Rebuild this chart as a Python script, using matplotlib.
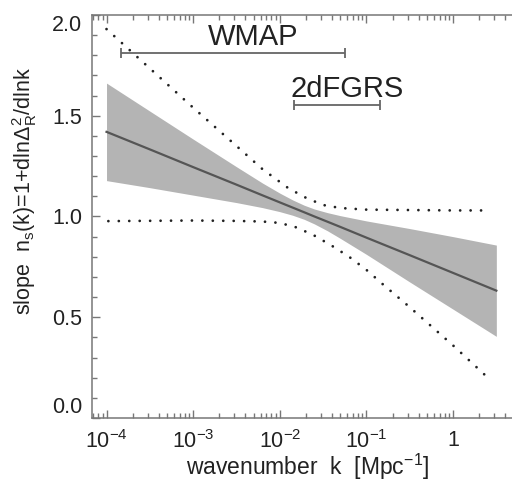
import numpy as np
import matplotlib.pyplot as plt
from matplotlib.ticker import FixedLocator, FixedFormatter, LogLocator, MultipleLocator, NullFormatter

plt.rcParams['font.family'] = ['Liberation Sans', 'DejaVu Sans']
plt.rcParams['mathtext.fontset'] = 'custom'
plt.rcParams['mathtext.rm'] = 'Liberation Sans'
plt.rcParams['mathtext.it'] = 'Liberation Sans'
plt.rcParams['mathtext.bf'] = 'Liberation Sans:bold'

# best fit n_s(k) with its band
k_fit = [1e-4, 3.16e-4, 1e-3, 3.16e-3, 6.31e-3, 1e-2, 1.41e-2, 1.91e-2, 2.51e-2,
         3.55e-2, 5.01e-2, 0.1, 0.316, 1.0, 3.16]
ns_fit = [1.42, 1.333, 1.245, 1.158, 1.105, 1.07, 1.044, 1.021, 1.0,
          0.974, 0.948, 0.895, 0.808, 0.72, 0.632]
ns_hi = [1.662, 1.523, 1.384, 1.247, 1.166, 1.116, 1.082, 1.056, 1.037,
         1.019, 1.004, 0.978, 0.94, 0.9, 0.858]
ns_lo = [1.178, 1.143, 1.106, 1.069, 1.044, 1.024, 1.006, 0.986, 0.963,
         0.929, 0.891, 0.812, 0.675, 0.54, 0.405]

# dotted envelopes
k_up = [1e-4, 3.16e-4, 1e-3, 3.16e-3, 6.31e-3, 1.26e-2, 2.0e-2, 3.16e-2, 5.01e-2, 0.1, 1.0, 2.7]
ns_up = [1.93, 1.735, 1.54, 1.35, 1.235, 1.14, 1.093, 1.057, 1.042, 1.034, 1.03, 1.03]
k_dn = [1.05e-4, 1e-3, 3.16e-3, 6.31e-3, 1e-2, 1.58e-2, 2.51e-2, 3.98e-2, 6.31e-2, 0.1, 0.158, 0.316, 1.0, 2.75]
ns_dn = [0.977, 0.98, 0.978, 0.975, 0.968, 0.945, 0.905, 0.855, 0.8, 0.735, 0.66, 0.55, 0.36, 0.185]

# k ranges probed by the surveys
surveys = ['WMAP', '2dFGRS']
survey_kmin = [1.48e-4, 0.0144]
survey_kmax = [0.057, 0.145]
survey_y = [1.81, 1.555]
label_k = [4.9e-3, 0.06]
label_y = [1.89, 1.635]

xticks = [1e-4, 1e-3, 1e-2, 1e-1, 1]
xticklabels = ['$10^{-4}$', '$10^{-3}$', '$10^{-2}$', '$10^{-1}$', '1']
yticks = [0.0, 0.5, 1.0, 1.5, 2.0]

fig = plt.figure(figsize=(5.12, 4.83), dpi=100)
ax = fig.add_axes([0.1797, 0.1346, 0.8203, 0.8344])

ax.fill_between(k_fit, ns_lo, ns_hi, color='#b4b4b4', lw=0)
ax.plot(k_fit, ns_fit, color='#555555', lw=1.6)
ax.plot(k_up, ns_up, color='#222222', lw=2.0, linestyle=(0, (0.01, 3.75)), dash_capstyle='round')
ax.plot(k_dn, ns_dn, color='#222222', lw=2.0, linestyle=(0, (0.01, 3.75)), dash_capstyle='round')

for i in range(len(surveys)):
    ax.hlines(survey_y[i], survey_kmin[i], survey_kmax[i], color='#666666', lw=1.3)
    ax.plot([survey_kmin[i], survey_kmax[i]], [survey_y[i], survey_y[i]], ls='none',
            marker='|', ms=7, mew=1.3, color='#666666')
    ax.text(label_k[i], label_y[i], surveys[i], fontsize=21, ha='center', va='center', color='#222222')

ax.set_xscale('log')
ax.set_xlim(6.8e-5, 4.79)
ax.set_ylim(0, 2.0)

ax.xaxis.set_major_locator(FixedLocator(xticks))
ax.xaxis.set_major_formatter(FixedFormatter(xticklabels))
ax.xaxis.set_minor_locator(LogLocator(base=10, subs=np.arange(2, 10)))
ax.xaxis.set_minor_formatter(NullFormatter())
ax.yaxis.set_major_locator(FixedLocator(yticks))
ax.set_yticklabels(['0.0', '0.5', '1.0', '1.5', '2.0'])
ax.yaxis.set_minor_locator(MultipleLocator(0.1))

ax.tick_params(which='both', direction='in', top=True, right=False, color='#777777', width=1.0)
ax.tick_params(which='major', length=6, labelsize=15.5, colors='#777777', labelcolor='#222222')
ax.tick_params(which='minor', length=3.5)
ax.tick_params(axis='x', which='major', pad=9)
ax.tick_params(axis='y', which='major', pad=7)

for side in ['left', 'bottom', 'top']:
    ax.spines[side].set_color('#777777')
    ax.spines[side].set_linewidth(1.1)
ax.spines['right'].set_visible(False)

ax.set_xlabel('wavenumber  k  [Mpc$^{-1}$]', fontsize=16.5, color='#222222')
ax.set_ylabel(r'slope  n$_\mathrm{s}$(k)=1+dln$\Delta_\mathrm{R}^2$/dlnk', fontsize=15.5, color='#222222')
ax.xaxis.set_label_coords(0.513, -0.083)
ax.yaxis.set_label_coords(-0.127, 0.563)

fig.canvas.draw()
ylabels = ax.get_yticklabels()
ylabels[0].set_va('bottom')
ylabels[-1].set_va('top')

fig.savefig('out.png', dpi=100)
